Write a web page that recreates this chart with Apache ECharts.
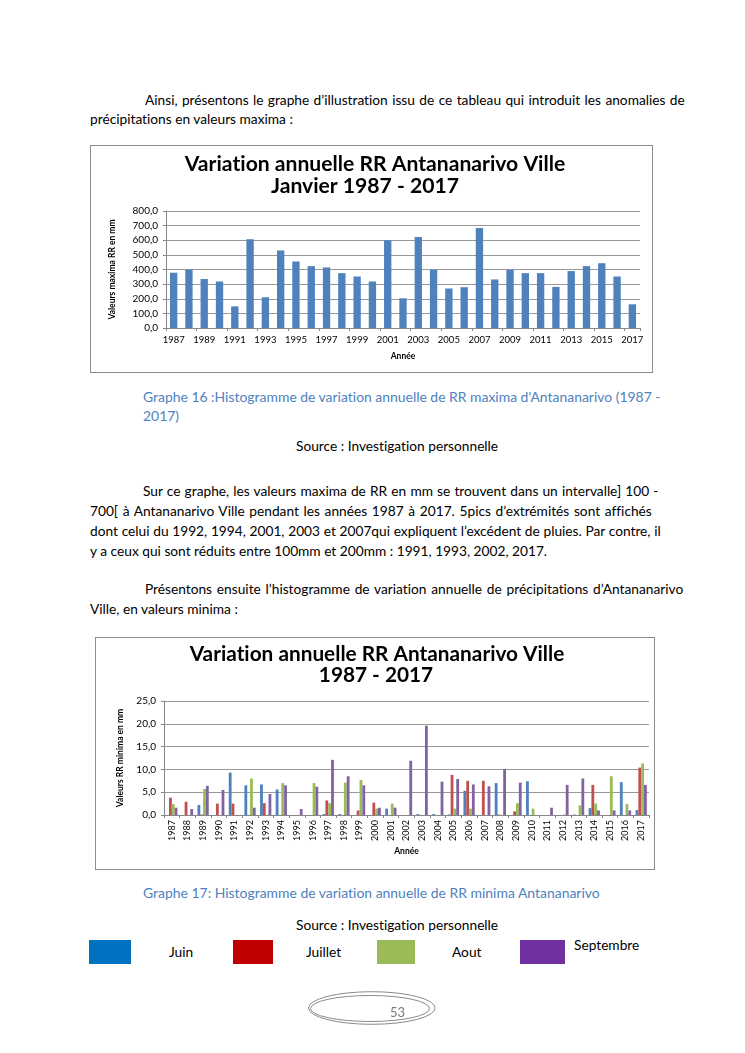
<!DOCTYPE html>
<html><head><meta charset="utf-8">
<script src="https://cdn.jsdelivr.net/npm/echarts@6.0.0/dist/echarts.min.js"></script>
<style>
html,body{margin:0;padding:0;background:#fff;}
body{width:745px;height:1053px;position:relative;overflow:hidden;font-family:Lato,"Open Sans",sans-serif;color:#000;font-variant-ligatures:none;}
.t{position:absolute;white-space:nowrap;line-height:20px;height:20px;}
.cap{color:#4F81BD;}
.frame{position:absolute;border:1px solid #8c8c8c;box-sizing:border-box;background:#fff;}
.box{position:absolute;}
</style></head><body>

<div class="t body" data-x="145" data-y="100" data-w="540" data-j="1">Ainsi, présentons le graphe d’illustration issu de ce tableau qui introduit les anomalies de</div>
<div class="t body" data-x="90" data-y="119">précipitations en valeurs maxima :</div>

<div id="c1" class="frame" style="left:90px;top:145px;width:563px;height:228px;"></div>

<div class="t cap" data-x="143" data-y="397" data-w="518" data-j="1">Graphe 16 :Histogramme de variation annuelle de RR maxima d'Antananarivo (1987 -</div>
<div class="t cap" data-x="143" data-y="416">2017)</div>
<div class="t body" data-x="296" data-y="446">Source : Investigation personnelle</div>

<div class="t body" data-x="143" data-y="491" data-w="516" data-j="1">Sur ce graphe, les valeurs maxima de RR en mm se trouvent dans un intervalle] 100 -</div>
<div class="t body" data-x="90" data-y="511" data-w="562" data-j="1">700[ à Antananarivo Ville pendant les années 1987 à 2017. 5pics d’extrémités sont affichés</div>
<div class="t body" data-x="90" data-y="531" data-w="571" data-j="1">dont celui du 1992, 1994, 2001, 2003 et 2007qui expliquent l’excédent de pluies. Par contre, il</div>
<div class="t body" id="ref" data-x="90" data-y="551">y a ceux qui sont réduits entre 100mm et 200mm : 1991, 1993, 2002, 2017.</div>

<div class="t body" data-x="145" data-y="589" data-w="539" data-j="1">Présentons ensuite l’histogramme de variation annuelle de précipitations d’Antananarivo</div>
<div class="t body" data-x="90" data-y="609">Ville, en valeurs minima :</div>

<div id="c2" class="frame" style="left:95px;top:637px;width:560px;height:233px;"></div>

<div class="t cap" id="refcap" data-x="143" data-y="893">Graphe 17: Histogramme de variation annuelle de RR minima Antananarivo</div>
<div class="t body" data-x="296" data-y="925">Source : Investigation personnelle</div>

<div class="box" style="left:89px;top:940px;width:42px;height:24px;background:#0070C0;"></div>
<div class="t body" data-x="169" data-y="952">Juin</div>
<div class="box" style="left:233px;top:940px;width:40px;height:24px;background:#C00000;"></div>
<div class="t body" data-x="306" data-y="952">Juillet</div>
<div class="box" style="left:377px;top:940px;width:38px;height:24px;background:#9BBB59;"></div>
<div class="t body" data-x="452" data-y="952">Aout</div>
<div class="box" style="left:520px;top:940px;width:45px;height:24px;background:#7030A0;"></div>
<div class="t body" data-x="574" data-y="945">Septembre</div>

<svg style="position:absolute;left:0;top:0" width="745" height="1053">
  <ellipse cx="371.8" cy="1008" rx="63.3" ry="16.3" fill="none" stroke="#8a8a8a" stroke-width="1"/>
  <ellipse cx="370" cy="1008.5" rx="59.5" ry="13" fill="none" stroke="#8a8a8a" stroke-width="1"/>
</svg>
<div class="t" id="pg" style="color:#777;font-size:13px;left:390px;top:1002px;">53</div>

<script>
// ---------- DATA ----------
const years = ['1987','1988','1989','1990','1991','1992','1993','1994','1995','1996','1997','1998','1999','2000','2001','2002','2003','2004','2005','2006','2007','2008','2009','2010','2011','2012','2013','2014','2015','2016','2017'];
const maxima = [378,400,335,318,148,607,210,530,455,423,414,375,352,318,600,203,622,398,270,279,683,332,398,375,375,281,389,423,443,352,162];

const juin      = [0,0,2.2,0,9.3,6.5,6.7,5.6,0,0,0.2,0.2,0,0,1.4,0,0.2,0.2,0.1,5.3,0,7.0,0,7.4,0,0,0.1,1.5,0,7.2,1.1];
const juillet   = [3.8,2.9,0.1,2.5,2.5,0,2.6,0,0,0,3.2,0,1.0,2.7,0,0,0,0,8.8,7.5,7.5,0.1,0.8,0,0,0,0,6.6,0,0,10.4];
const aout      = [2.4,0,5.7,0,0,8.0,0,7.0,0,7.0,2.6,7.1,7.7,1.4,2.5,0,0,0,1.4,1.4,0,0,2.6,1.4,0,0.1,2.1,2.5,8.5,2.4,11.3];
const septembre = [1.6,1.3,6.4,5.5,0,1.6,4.6,6.5,1.3,6.2,12.1,8.5,6.5,1.6,1.6,11.9,19.6,7.3,7.9,6.7,6.3,10.1,7.1,0,1.6,6.6,8.0,1.0,1.0,1.0,6.6];

const seriesNames  = ['Juin','Juillet','Aout','Septembre'];
const seriesColors = ['#4F81BD','#C0504D','#9BBB59','#8064A2'];

const title1a = 'Variation annuelle RR Antananarivo Ville';
const title1b = 'Janvier 1987 - 2017';
const title2a = 'Variation annuelle RR Antananarivo Ville';
const title2b = '1987 - 2017';

// ---------- helpers ----------
const FONT = 'Lato';
const cv = document.createElement('canvas').getContext('2d');
function measure(text, size, weight){ cv.font = (weight||'normal')+' '+size+'px '+FONT; return cv.measureText(text).width; }
function fit(text, weight, target){ return 100*target/measure(text,100,weight); }

// ---------- document text ----------
const bodySize = fit(document.getElementById('ref').textContent, 'normal', 458);
const capSize  = fit(document.getElementById('refcap').textContent, 'normal', 458);
document.querySelectorAll('.t[data-x]').forEach(el=>{
  const isCap = el.classList.contains('cap');
  const fs = isCap ? capSize : bodySize;
  el.style.fontSize = fs+'px';
  el.style.left = el.dataset.x+'px';
  el.style.top = (parseFloat(el.dataset.y)-10)+'px';
  if(el.dataset.j){
    const txt = el.textContent;
    const w = measure(txt, fs, 'normal');
    const spaces = (txt.match(/ /g)||[]).length;
    el.style.wordSpacing = ((parseFloat(el.dataset.w)-w)/spaces)+'px';
  }
});

const fmt = v => v.toFixed(1).replace('.',',');
const axisGrey = '#868686';

// ---------- chart 1 ----------
const t1 = fit(title1a,'bold',381);
const c1 = echarts.init(document.getElementById('c1'));
c1.setOption({
  animation:false,
  title:[
    {text:title1a, left:284, top:20-t1*0.6, textAlign:'center', padding:0,
     textStyle:{fontFamily:FONT,fontWeight:'bold',fontSize:t1,color:'#000'}},
    {text:title1b, left:274, top:42-t1*0.6, textAlign:'center', padding:0,
     textStyle:{fontFamily:FONT,fontWeight:'bold',fontSize:t1,color:'#000'}}
  ],
  grid:{left:75, top:65, width:474, height:117},
  xAxis:{type:'category', data:years,
    axisLine:{lineStyle:{color:axisGrey}},
    axisTick:{show:true,length:3,lineStyle:{color:axisGrey}},
    axisLabel:{interval:1, fontSize:9.5, color:'#000', fontFamily:FONT, margin:7},
    name:'Année', nameLocation:'middle', nameGap:24,
    nameTextStyle:{fontFamily:FONT,fontWeight:'bold',fontSize:8.5,color:'#000'}},
  yAxis:{type:'value', min:0, max:800, interval:100,
    axisLine:{show:true,lineStyle:{color:axisGrey}},
    axisTick:{show:true,length:3,lineStyle:{color:axisGrey}},
    axisLabel:{formatter:fmt, fontSize:10, color:'#000', fontFamily:FONT, margin:8},
    splitLine:{lineStyle:{color:'#999'}},
    name:'Valeurs maxima RR en mm', nameLocation:'middle', nameRotate:90, nameGap:49,
    nameTextStyle:{fontFamily:FONT,fontWeight:'bold',fontSize:8.5,color:'#000'}},
  series:[{type:'bar', data:maxima, barWidth:'48%', itemStyle:{color:'#4F81BD'}}]
});

// ---------- chart 2 ----------
const t2 = fit(title2a,'bold',375);
const minima = [juin, juillet, aout, septembre];
const c2 = echarts.init(document.getElementById('c2'));
c2.setOption({
  animation:false,
  title:[
    {text:title2a, left:281, top:18-t2*0.6, textAlign:'center', padding:0,
     textStyle:{fontFamily:FONT,fontWeight:'bold',fontSize:t2,color:'#000'}},
    {text:title2b, left:280, top:39-t2*0.6, textAlign:'center', padding:0,
     textStyle:{fontFamily:FONT,fontWeight:'bold',fontSize:t2,color:'#000'}}
  ],
  grid:{left:68, top:63, width:485, height:114},
  xAxis:{type:'category', data:years,
    axisLine:{lineStyle:{color:axisGrey}},
    axisTick:{show:true,length:3,lineStyle:{color:axisGrey}},
    axisLabel:{interval:0, rotate:90, fontSize:9, color:'#000', fontFamily:FONT, margin:5},
    name:'Année', nameLocation:'middle', nameGap:32,
    nameTextStyle:{fontFamily:FONT,fontWeight:'bold',fontSize:8.5,color:'#000'}},
  yAxis:{type:'value', min:0, max:25, interval:5,
    axisLine:{show:true,lineStyle:{color:axisGrey}},
    axisTick:{show:true,length:3,lineStyle:{color:axisGrey}},
    axisLabel:{formatter:fmt, fontSize:10, color:'#000', fontFamily:FONT, margin:8},
    splitLine:{lineStyle:{color:'#999'}},
    name:'Valeurs RR minima en mm', nameLocation:'middle', nameRotate:90, nameGap:39,
    nameTextStyle:{fontFamily:FONT,fontWeight:'bold',fontSize:8.5,color:'#000'}},
  series: seriesNames.map((n,i)=>({type:'bar', name:n, data:minima[i],
    barGap:'0%', barCategoryGap:'28%', itemStyle:{color:seriesColors[i]}}))
});
</script>
</body></html>
